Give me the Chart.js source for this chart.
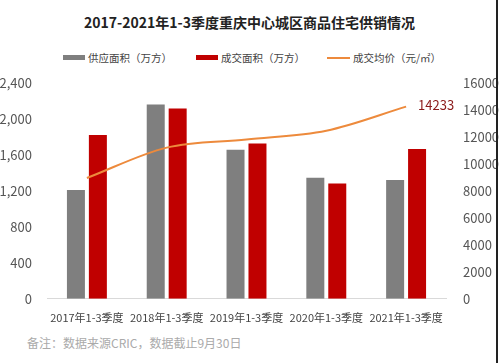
<!DOCTYPE html>
<html lang="zh">
<head>
    <meta charset="UTF-8">
    <title>2017-2021年1-3季度重庆中心城区商品住宅供销情况</title>
    <script src="https://cdn.jsdelivr.net/npm/chart.js"></script>
    <style>
        html, body { margin: 0; padding: 0; background: #fff; }
        body { width: 499px; height: 363px; position: relative; overflow: hidden;
               font-family: "Noto Sans CJK SC", "Noto Sans", sans-serif; }
        .title { position: absolute; top: 12px; left: 0; width: 499px; text-align: center;
                 font-size: 14px; font-weight: bold; color: #222; }
        .legend { position: absolute; top: 50px; left: 0; width: 499px; font-size: 10.5px; color: #444; }
        .legend span { position: absolute; top: 0; white-space: nowrap; }
        .sw { position: absolute; }
        .note { position: absolute; left: 27px; top: 334px; font-size: 12px; color: #aaa; }
        #wrap { position: absolute; left: 0; top: 66px; width: 499px; height: 262px; }
        .edge { position: absolute; right: 1px; top: 0; width: 2px; height: 363px; background: #222; }
    </style>
</head>
<body>
    <div class="title">2017-2021年1-3季度重庆中心城区商品住宅供销情况</div>
    <div class="legend">
        <div class="sw" style="left:63px;top:5px;width:22px;height:5px;background:#7f7f7f"></div>
        <span style="left:88px">供应面积（万方）</span>
        <div class="sw" style="left:196px;top:5px;width:22px;height:5px;background:#c00000"></div>
        <span style="left:221px">成交面积（万方）</span>
        <div class="sw" style="left:327px;top:7px;width:23px;height:2px;background:#ed8a3c"></div>
        <span style="left:353px">成交均价（元/㎡）</span>
    </div>
    <div id="wrap"><canvas id="chart"></canvas></div>
    <div class="note">备注：数据来源CRIC，数据截止9月30日</div>
    <div class="edge"></div>

    <script>
        // data
        const years = ['2017年1-3季度', '2018年1-3季度', '2019年1-3季度', '2020年1-3季度', '2021年1-3季度'];
        const supplyArea = [1210, 2160, 1655, 1345, 1320];   // 供应面积（万方）
        const dealArea = [1820, 2115, 1725, 1280, 1665];     // 成交面积（万方）
        const avgPrice = [8950, 11200, 11800, 12450, 14233]; // 成交均价（元/㎡）
        const leftTicks = [0, 400, 800, 1200, 1600, 2000, 2400];
        const rightTicks = [0, 2000, 4000, 6000, 8000, 10000, 12000, 14000, 16000];

        const tickFont = { family: '"Noto Sans CJK SC", sans-serif', size: 13 };

        // label for the last price point
        const lastLabel = {
            id: 'lastLabel',
            afterDatasetsDraw(chart) {
                const meta = chart.getDatasetMeta(0);
                const pt = meta.data[meta.data.length - 1];
                const ctx = chart.ctx;
                ctx.save();
                ctx.font = '13px "Noto Sans CJK SC", sans-serif';
                ctx.fillStyle = '#8b1a1a';
                ctx.textBaseline = 'middle';
                ctx.fillText(String(avgPrice[avgPrice.length - 1]), pt.x + 12, pt.y - 2);
                ctx.restore();
            }
        };

        new Chart(document.getElementById('chart'), {
            data: {
                labels: years,
                datasets: [
                    {
                        type: 'line',
                        label: '成交均价（元/㎡）',
                        data: avgPrice,
                        yAxisID: 'y1',
                        borderColor: '#ed8a3c',
                        borderWidth: 2,
                        pointRadius: 0,
                        cubicInterpolationMode: 'monotone',
                        order: 0
                    },
                    {
                        type: 'bar',
                        label: '供应面积（万方）',
                        data: supplyArea,
                        yAxisID: 'y',
                        backgroundColor: '#7f7f7f',
                        categoryPercentage: 0.55,
                        barPercentage: 0.82,
                        order: 1
                    },
                    {
                        type: 'bar',
                        label: '成交面积（万方）',
                        data: dealArea,
                        yAxisID: 'y',
                        backgroundColor: '#c00000',
                        categoryPercentage: 0.55,
                        barPercentage: 0.82,
                        order: 1
                    }
                ]
            },
            options: {
                responsive: true,
                maintainAspectRatio: false,
                animation: false,
                layout: { padding: { top: 6, bottom: 0 } },
                plugins: { legend: { display: false }, tooltip: { enabled: false } },
                scales: {
                    x: {
                        grid: { display: false },
                        border: { color: '#d9d9d9' },
                        ticks: { color: '#444', font: { family: tickFont.family, size: 11 }, maxRotation: 0, padding: 4 }
                    },
                    y: {
                        position: 'left',
                        min: 0, max: 2400,
                        afterBuildTicks: s => { s.ticks = leftTicks.map(v => ({ value: v })); },
                        afterFit: s => { s.width = 47; },
                        grid: { display: false },
                        border: { display: false },
                        ticks: { color: '#555', font: tickFont, padding: 7,
                                 callback: v => v.toLocaleString('en-US') }
                    },
                    y1: {
                        position: 'right',
                        min: 0, max: 16000,
                        afterBuildTicks: s => { s.ticks = rightTicks.map(v => ({ value: v })); },
                        afterFit: s => { s.width = 53; },
                        grid: { display: false },
                        border: { display: false },
                        ticks: { color: '#555', font: tickFont, padding: 9, callback: v => String(v) }
                    }
                }
            },
            plugins: [lastLabel]
        });
    </script>
</body>
</html>
